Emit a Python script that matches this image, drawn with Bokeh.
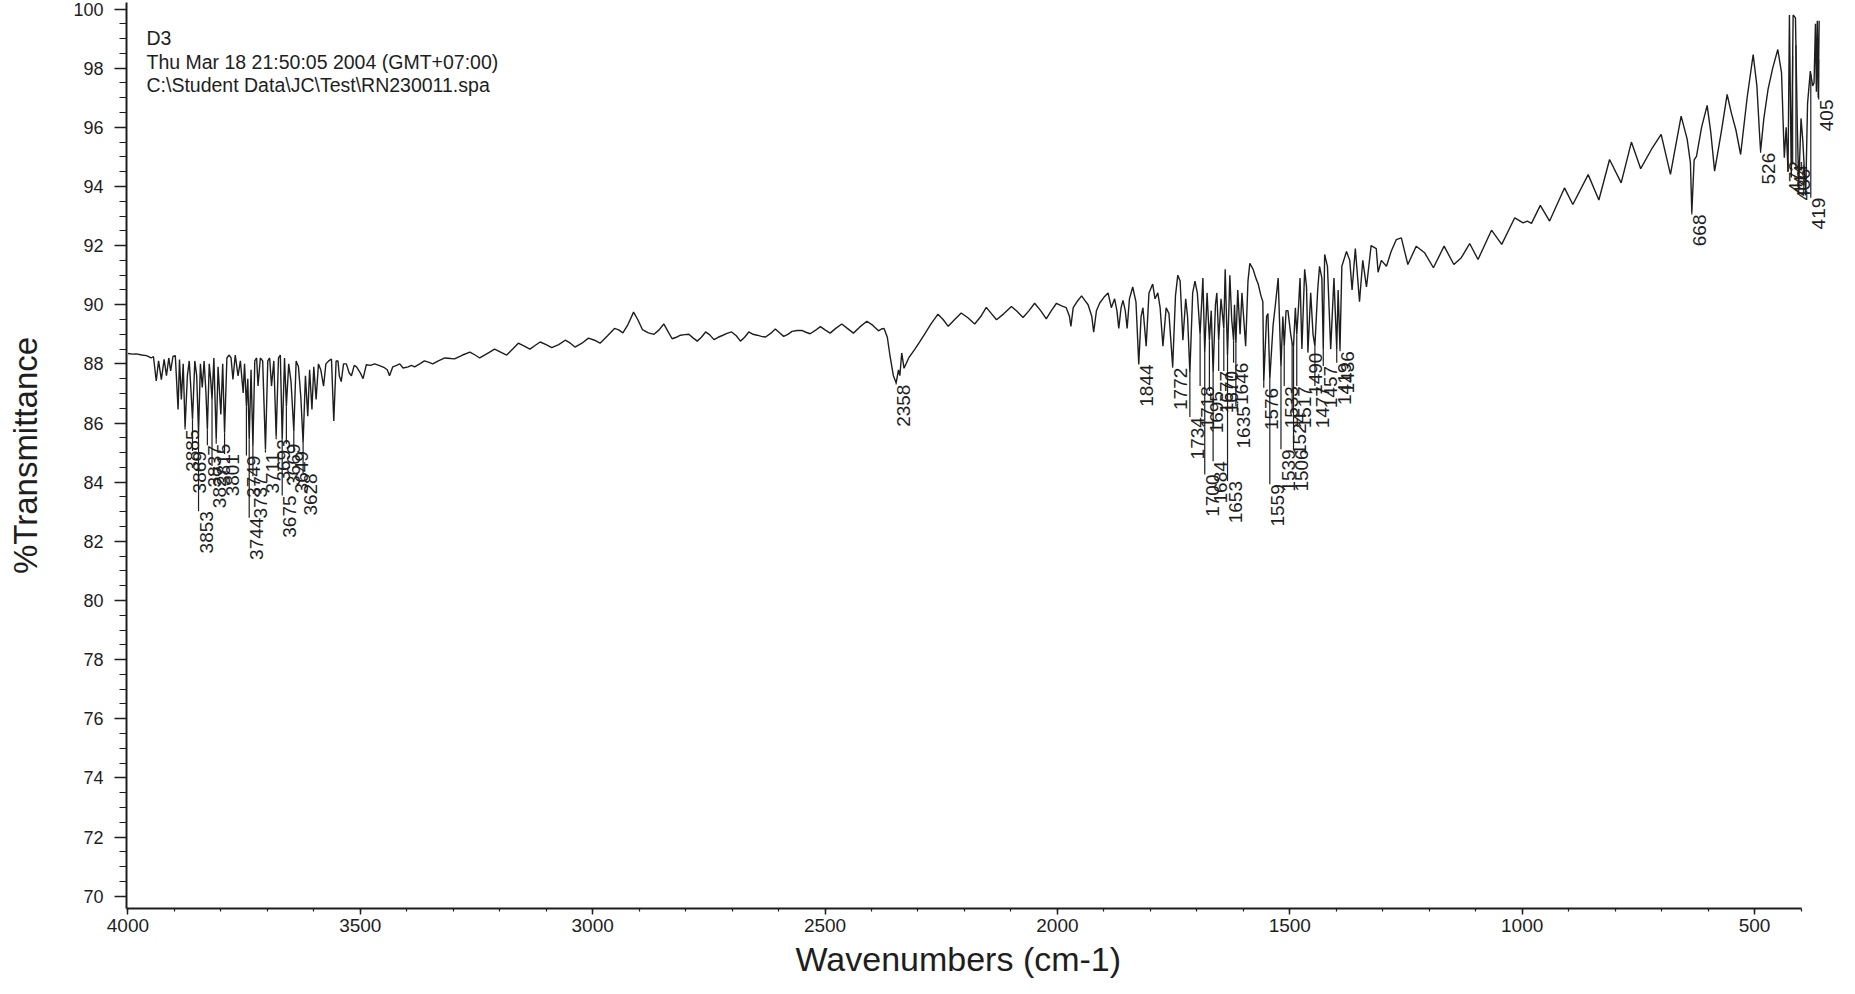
import numpy as np
from bokeh.plotting import figure
from bokeh.models import Range1d, SingleIntervalTicker, Label, LabelSet, ColumnDataSource, Title
from bokeh.core.properties import value
from bokeh.embed import file_html
from bokeh.resources import INLINE

# ---- spectrum (wavenumber cm-1, %T) ----
wavenumber = [
    4000, 3990, 3982, 3970, 3960, 3950, 3945, 3939, 3934, 3928, 3922, 3917, 3912, 3908, 3903, 3898,
    3892, 3889, 3885, 3881, 3877, 3872, 3868, 3865, 3861, 3856, 3852, 3848, 3844, 3840, 3836, 3832,
    3829, 3825, 3822, 3819, 3815, 3810, 3806, 3800, 3796, 3792, 3787, 3782, 3778, 3774, 3769, 3763,
    3758, 3752, 3749, 3745, 3742, 3739, 3735, 3731, 3727, 3723, 3720, 3715, 3710, 3704, 3699, 3695,
    3691, 3686, 3681, 3676, 3672, 3668, 3663, 3659, 3654, 3649, 3643, 3638, 3633, 3628, 3623, 3618,
    3613, 3609, 3604, 3600, 3595, 3590, 3585, 3579, 3574, 3568, 3562, 3557, 3552, 3548, 3545, 3541,
    3536, 3530, 3524, 3519, 3513, 3508, 3500, 3494, 3487, 3478, 3469, 3460, 3448, 3442, 3437, 3430,
    3422, 3415, 3408, 3397, 3390, 3383, 3372, 3362, 3352, 3344, 3332, 3318, 3305, 3297, 3280, 3264,
    3253, 3243, 3227, 3211, 3198, 3185, 3172, 3160, 3147, 3135, 3124, 3113, 3100, 3088, 3073, 3059,
    3048, 3038, 3023, 3009, 2996, 2984, 2968, 2953, 2944, 2935, 2925, 2912, 2903, 2893, 2880, 2868,
    2857, 2847, 2838, 2829, 2820, 2811, 2802, 2793, 2784, 2775, 2766, 2757, 2748, 2739, 2730, 2721,
    2711, 2701, 2691, 2682, 2673, 2664, 2655, 2646, 2637, 2628, 2617, 2607, 2598, 2589, 2580, 2571,
    2560, 2550, 2541, 2532, 2521, 2510, 2500, 2489, 2477, 2464, 2452, 2439, 2425, 2410, 2397, 2385,
    2378, 2373, 2366, 2360, 2353, 2347, 2342, 2339, 2335, 2330, 2320, 2307, 2296, 2286, 2272, 2257,
    2246, 2235, 2221, 2207, 2192, 2178, 2165, 2153, 2142, 2131, 2115, 2099, 2087, 2074, 2061, 2049,
    2036, 2024, 2013, 2002, 1991, 1981, 1974, 1971, 1966, 1958, 1948, 1941, 1934, 1926, 1922, 1916,
    1909, 1900, 1891, 1884, 1877, 1872, 1868, 1863, 1859, 1854, 1850, 1845, 1838, 1831, 1825, 1820,
    1816, 1809, 1803, 1795, 1790, 1784, 1779, 1773, 1766, 1760, 1752, 1746, 1741, 1736, 1730, 1724,
    1720, 1715, 1709, 1704, 1699, 1693, 1687, 1683, 1678, 1673, 1669, 1665, 1660, 1657, 1653, 1648,
    1642, 1639, 1634, 1629, 1625, 1621, 1619, 1616, 1612, 1607, 1603, 1595, 1590, 1586, 1579, 1573,
    1568, 1562, 1558, 1556, 1550, 1547, 1543, 1536, 1531, 1525, 1519, 1515, 1512, 1508, 1504, 1498,
    1495, 1492, 1488, 1485, 1481, 1478, 1474, 1468, 1464, 1461, 1455, 1450, 1446, 1440, 1436, 1431,
    1428, 1425, 1419, 1412, 1405, 1399, 1396, 1392, 1388, 1378, 1371, 1366, 1359, 1350, 1343, 1335,
    1325, 1314, 1310, 1303, 1292, 1282, 1271, 1260, 1246, 1228, 1210, 1191, 1168, 1147, 1131, 1113,
    1095, 1066, 1044, 1016, 998, 989, 980, 961, 941, 909, 891, 858, 835, 812, 787, 765,
    745, 722, 701, 681, 658, 645, 638, 635, 630, 625, 614, 602, 594, 586, 572, 559,
    550, 540, 530, 516, 503, 495, 489, 487, 480, 471, 461, 450, 442, 436, 432, 428,
    425, 421, 417, 412, 408, 405, 400, 396, 390, 386, 380, 375, 372, 369, 367, 365,
    363, 361,
]
transmittance = [
    88.35, 88.33, 88.34, 88.30, 88.28, 88.20, 88.25, 87.42, 88.10, 87.47, 88.15, 87.60, 88.20, 87.76, 88.25, 88.28,
    86.46, 88.15, 86.80, 88.00, 85.84, 87.60, 88.10, 87.30, 86.12, 88.10, 87.60, 85.67, 88.00, 87.20, 88.10, 87.00,
    85.78, 88.00, 87.50, 86.80, 88.20, 85.45, 87.90, 86.29, 88.00, 85.67, 88.20, 88.30, 88.20, 87.47, 88.30, 87.59,
    88.10, 87.02, 88.00, 86.57, 87.50, 85.45, 87.80, 85.22, 88.10, 88.20, 87.25, 88.20, 88.10, 85.11, 88.10, 88.20,
    87.25, 88.10, 85.56, 88.20, 88.30, 85.45, 88.20, 86.57, 88.00, 87.40, 85.73, 88.10, 87.90, 86.90, 85.33, 87.60,
    86.23, 87.80, 86.46, 87.90, 86.80, 88.00, 87.80, 87.25, 88.00, 88.10, 88.16, 86.07, 88.10, 88.10, 87.59, 87.40,
    88.00, 88.00, 87.70, 87.60, 87.95, 87.90, 87.70, 87.50, 87.97, 87.95, 88.00, 87.95, 87.87, 87.80, 87.60, 87.90,
    87.95, 88.00, 87.86, 87.90, 87.95, 87.90, 88.00, 88.10, 88.05, 88.00, 88.10, 88.20, 88.18, 88.17, 88.30, 88.40,
    88.30, 88.20, 88.35, 88.50, 88.40, 88.30, 88.50, 88.70, 88.60, 88.50, 88.62, 88.74, 88.65, 88.55, 88.65, 88.80,
    88.70, 88.57, 88.70, 88.87, 88.80, 88.70, 88.95, 89.20, 89.15, 89.05, 89.30, 89.75, 89.50, 89.16, 89.05, 89.00,
    89.15, 89.35, 89.10, 88.85, 88.90, 88.97, 88.99, 89.00, 88.88, 88.77, 88.90, 89.08, 88.98, 88.82, 88.90, 88.96,
    89.03, 89.08, 88.95, 88.77, 88.90, 89.08, 89.00, 88.97, 88.93, 88.91, 89.03, 89.18, 89.05, 88.93, 89.00, 89.10,
    89.13, 89.13, 89.07, 89.02, 89.13, 89.26, 89.15, 89.04, 89.20, 89.35, 89.20, 89.04, 89.25, 89.44, 89.30, 89.12,
    89.18, 89.20, 88.90, 88.25, 87.60, 87.36, 87.80, 87.60, 88.37, 87.85, 88.20, 88.49, 88.75, 89.00, 89.35, 89.68,
    89.50, 89.27, 89.50, 89.72, 89.55, 89.35, 89.60, 89.91, 89.70, 89.49, 89.70, 89.94, 89.78, 89.57, 89.80, 90.05,
    89.80, 89.52, 89.80, 90.05, 89.96, 89.90, 89.60, 89.27, 89.90, 90.10, 90.30, 90.15, 90.00, 89.60, 89.07, 89.80,
    90.06, 90.25, 90.40, 89.90, 90.20, 89.80, 89.20, 89.90, 90.15, 89.80, 89.20, 90.20, 90.60, 90.10, 88.00, 89.60,
    89.90, 88.60, 90.40, 90.70, 90.20, 90.40, 89.90, 88.60, 89.90, 89.70, 87.90, 90.30, 91.00, 90.80, 88.80, 90.20,
    89.60, 87.70, 90.40, 90.80, 90.40, 89.00, 90.90, 88.40, 90.40, 88.80, 89.80, 87.70, 90.00, 90.40, 88.80, 90.20,
    89.20, 91.20, 88.30, 91.00, 89.50, 88.80, 90.00, 88.70, 90.50, 89.00, 90.40, 88.60, 90.80, 91.40, 91.20, 90.90,
    90.70, 90.30, 90.10, 87.40, 89.60, 89.70, 87.50, 89.30, 90.00, 90.90, 87.90, 89.60, 88.60, 89.80, 89.80, 89.00,
    88.70, 88.60, 89.90, 89.00, 90.00, 90.90, 88.50, 91.20, 90.60, 88.40, 90.40, 89.00, 88.60, 90.50, 91.30, 90.90,
    88.50, 91.70, 91.30, 88.50, 90.90, 88.50, 90.50, 88.50, 91.30, 91.80, 91.50, 90.50, 91.90, 90.10, 91.50, 90.60,
    92.00, 91.90, 91.10, 91.50, 91.30, 91.80, 92.20, 92.26, 91.36, 91.98, 91.76, 91.25, 91.98, 91.36, 91.59, 92.07,
    91.53, 92.52, 92.04, 92.94, 92.77, 92.83, 92.75, 93.36, 92.83, 93.95, 93.39, 94.40, 93.54, 94.91, 94.12, 95.50,
    94.60, 95.25, 95.76, 94.41, 96.38, 95.60, 94.80, 93.11, 94.90, 95.02, 96.00, 96.74, 95.80, 94.52, 95.80, 97.11,
    96.49, 95.90, 95.08, 97.00, 98.46, 97.40, 95.70, 95.20, 96.30, 97.28, 98.00, 98.63, 97.85, 94.97, 96.00, 94.50,
    99.80, 94.30, 99.80, 99.70, 96.00, 94.00, 96.30, 95.50, 93.70, 96.80, 97.90, 97.40, 97.50, 99.50, 97.20, 99.60,
    97.00, 99.60,
]

# ---- peak labels ----
peak_labels = [
    "3885", "3869", "3853", "3837", "3827", "3815", "3801",
    "3749", "3744", "3737", "3711", "3693", "3675", "3669", "3649", "3628",
    "2358",
    "1844", "1772", "1734", "1718", "1700", "1695", "1684", "1677", "1670", "1653", "1646", "1635",
    "1576", "1559", "1539", "1533", "1524", "1517", "1506", "1490", "1477", "1457", "1436", "1419",
    "668", "526", "472", "444", "436", "419", "405",
]
peak_pos = [
    3877, 3861, 3848, 3829, 3819, 3810, 3792,
    3745, 3739, 3731, 3704, 3681, 3668, 3659, 3643, 3623,
    2347,
    1825, 1752, 1715, 1693, 1683, 1673, 1665, 1653, 1642, 1634, 1621, 1616,
    1556, 1543, 1519, 1512, 1495, 1485, 1492, 1461, 1446, 1428, 1392, 1399,
    635, 487, 428, 418, 411, 379, 362,
]
peak_label_top = [
    85.78, 85.05, 83.02, 85.25, 84.55, 85.30, 84.95,
    84.90, 82.80, 84.20, 85.00, 85.45, 83.55, 85.30, 85.05, 84.30,
    87.30,
    87.98, 87.87, 86.20, 87.25, 84.26, 87.08, 84.71, 87.76, 87.76, 84.04, 88.04, 86.57,
    87.19, 83.93, 85.11, 87.25, 86.35, 87.25, 85.11, 88.38, 87.25, 87.93, 88.43, 88.04,
    93.05, 95.14, 94.86, 94.74, 94.60, 93.62, 96.94,
]

header_lines = ["D3", "Thu Mar 18 21:50:05 2004 (GMT+07:00)", "C:\\Student Data\\JC\\Test\\RN230011.spa"]
header_y = [99.02, 98.20, 97.42]

FONT = "Liberation Sans"
INK = "#1e1e1e"

p = figure(width=1839, height=986, output_backend="svg", toolbar_location=None,
           x_range=Range1d(4003, 323.7), y_range=Range1d(69.584, 100.22),
           min_border_left=126, min_border_right=3, min_border_top=2, min_border_bottom=78)
p.outline_line_color = None
p.grid.visible = False
p.background_fill_color = "white"

wn = np.array(wavenumber, dtype=float)
tr = np.array(transmittance, dtype=float)
p.line(wn, tr, line_color=INK, line_width=1.4)

# leader lines from the spectrum down to each label
pp = np.array(peak_pos, dtype=float)
spec_at_peak = np.interp(pp, wn[::-1], tr[::-1])
p.segment(x0=pp, y0=spec_at_peak, x1=pp, y1=np.array(peak_label_top),
          line_color=INK, line_width=1.2)

src = ColumnDataSource(dict(x=peak_pos, y=peak_label_top, text=peak_labels))
p.add_layout(LabelSet(x="x", y="y", text="text", source=src, angle=np.pi / 2,
                      text_align="right", text_baseline="top", x_offset=1,
                      text_font=value(FONT), text_font_size=value("19px"),
                      text_color=value(INK)))

for txt, yv in zip(header_lines, header_y):
    p.add_layout(Label(x=3960, y=yv, text=txt, text_font=FONT, text_font_size="19.5px",
                       text_baseline="middle", text_align="left", text_color=INK))

# axes
p.xaxis.ticker = SingleIntervalTicker(interval=500, num_minor_ticks=5)
p.yaxis.ticker = SingleIntervalTicker(interval=2, num_minor_ticks=4)
for ax in (p.xaxis[0], p.yaxis[0]):
    ax.axis_line_color = INK
    ax.axis_line_width = 2
    ax.major_tick_line_color = INK
    ax.minor_tick_line_color = INK
    ax.major_tick_line_width = 1.5
    ax.minor_tick_line_width = 1.2
    ax.major_tick_in = 0
    ax.minor_tick_in = 0
    ax.major_label_text_font = FONT
    ax.major_label_text_color = INK
    ax.axis_label_text_font = FONT
    ax.axis_label_text_font_style = "normal"
    ax.axis_label_text_color = INK

p.xaxis.bounds = (400, 4003)
p.xaxis.major_tick_out = 6
p.xaxis.minor_tick_out = 3
p.xaxis.major_label_text_font_size = "19px"
p.xaxis.major_label_standoff = 4

# x-axis title as a below-panel title, left-aligned with an offset so it sits left of centre as in the scan
p.add_layout(Title(text="Wavenumbers (cm-1)", align="left", offset=669, standoff=6,
                   text_font=FONT, text_font_size="34px", text_font_style="normal",
                   text_color=INK), "below")

p.yaxis.major_tick_out = 12
p.yaxis.minor_tick_out = 7
p.yaxis.major_label_text_font_size = "18px"
p.yaxis.major_label_standoff = 11
p.yaxis.axis_label = "%Transmittance"
p.yaxis.axis_label_text_font_size = "33px"
p.yaxis.axis_label_standoff = 26

open("out.html", "w").write(file_html(p, INLINE))
